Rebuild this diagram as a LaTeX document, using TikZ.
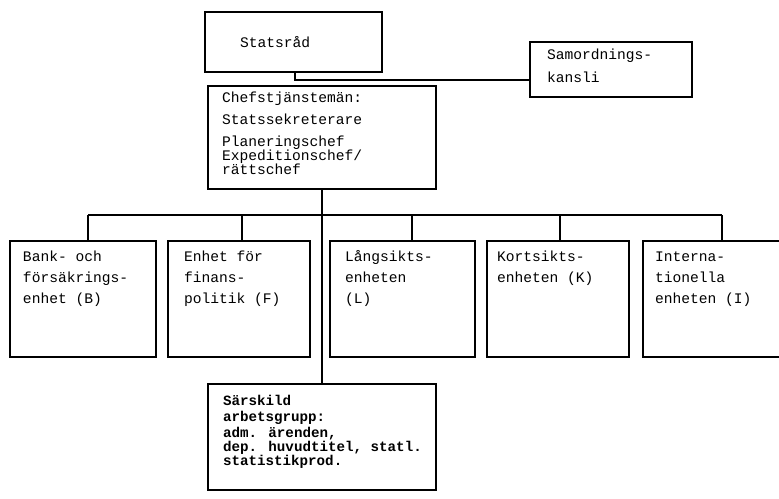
\documentclass[tikz,border=0pt]{standalone}
\usepackage{fontspec}
\newfontfamily\typw{Liberation Mono}
\begin{document}
\begin{tikzpicture}[x=1pt,y=-1pt,
  box/.style={draw, line width=2.2pt, inner sep=0pt, outer sep=0pt},
  conn/.style={line width=1.8pt},
  txt/.style={anchor=base west, inner sep=0pt, outer sep=0pt, font=\typw\fontsize{14.6pt}{16pt}\selectfont},
  btxt/.style={txt, font=\typw\bfseries\fontsize{14.2pt}{16pt}\selectfont}]
\useasboundingbox (0,0) rectangle (779,498);
\fill[white] (0,0) rectangle (779,498);

% boxes
\node[box, minimum width=177pt, minimum height=60pt] (stat) at (293.5,42) {};
\node[box, minimum width=162pt, minimum height=55pt] (samo) at (611,69.5) {};
\node[box, minimum width=228pt, minimum height=103pt] (chef) at (322,137.5) {};
\node[box, minimum width=146pt, minimum height=116pt] (bB) at (83,299) {};
\node[box, minimum width=142pt, minimum height=116pt] (bF) at (239,299) {};
\node[box, minimum width=145pt, minimum height=116pt] (bL) at (402.5,299) {};
\node[box, minimum width=142pt, minimum height=116pt] (bK) at (558,299) {};
\node[box, minimum width=160pt, minimum height=116pt] (bI) at (723,299) {};
\node[box, minimum width=228pt, minimum height=106pt] (sars) at (322,437) {};

% connectors
\coordinate (jS) at (295,80);
\draw[conn] (jS |- stat.south) -- (jS) -- (jS -| samo.west);
\draw[conn] (chef.south) -- (chef.south |- sars.north);
\coordinate (dB) at (88,215);
\coordinate (dF) at (242,215);
\coordinate (dL) at (412,215);
\coordinate (dK) at (560,215);
\coordinate (dI) at (722,215);
\draw[conn] (dB) -- (dI);
\draw[conn] (dB) -- (dB |- bB.north);
\draw[conn] (dF) -- (dF |- bF.north);
\draw[conn] (dL) -- (dL |- bL.north);
\draw[conn] (dK) -- (dK |- bK.north);
\draw[conn] (dI) -- (dI |- bI.north);

% texts
\node[txt] (tStat) at (240,47) {Statsråd};
\node[txt] (tSamo1) at (547,59) {Samordnings-};
\node[txt] (tSamo2) at (547,82) {kansli};

\node[txt] (tC1) at (222,102) {Chefstjänstemän:};
\node[txt] (tC2) at (222,124) {Statssekreterare};
\node[txt] (tC3) at (222,146) {Planeringschef};
\node[txt] (tC4) at (222,160) {Expeditionschef/};
\node[txt] (tC5) at (222,174) {rättschef};

\node[txt] (tB1) at (23,261) {Bank- och};
\node[txt] (tB2) at (23,282) {försäkrings-};
\node[txt] (tB3) at (23,303) {enhet (B)};

\node[txt] (tF1) at (184,261) {Enhet för};
\node[txt] (tF2) at (184,282) {finans-};
\node[txt] (tF3) at (184,303) {politik (F)};

\node[txt] (tL1) at (345,261) {Långsikts-};
\node[txt] (tL2) at (345,282) {enheten};
\node[txt] (tL3) at (345,303) {(L)};

\node[txt] (tK1) at (497,261) {Kortsikts-};
\node[txt] (tK2) at (497,282) {enheten (K)};

\node[txt] (tI1) at (655,261) {Interna-};
\node[txt] (tI2) at (655,282) {tionella};
\node[txt] (tI3) at (655,303) {enheten (I)};

\node[btxt] (tS1) at (223,405) {Särskild};
\node[btxt] (tS2) at (223,421) {arbetsgrupp:};
\node[btxt] (tS3) at (223,437) {adm. ärenden,};
\node[btxt] (tS4) at (223,451) {dep. huvudtitel, statl.};
\node[btxt] (tS5) at (223,465) {statistikprod.};
\end{tikzpicture}
\end{document}
